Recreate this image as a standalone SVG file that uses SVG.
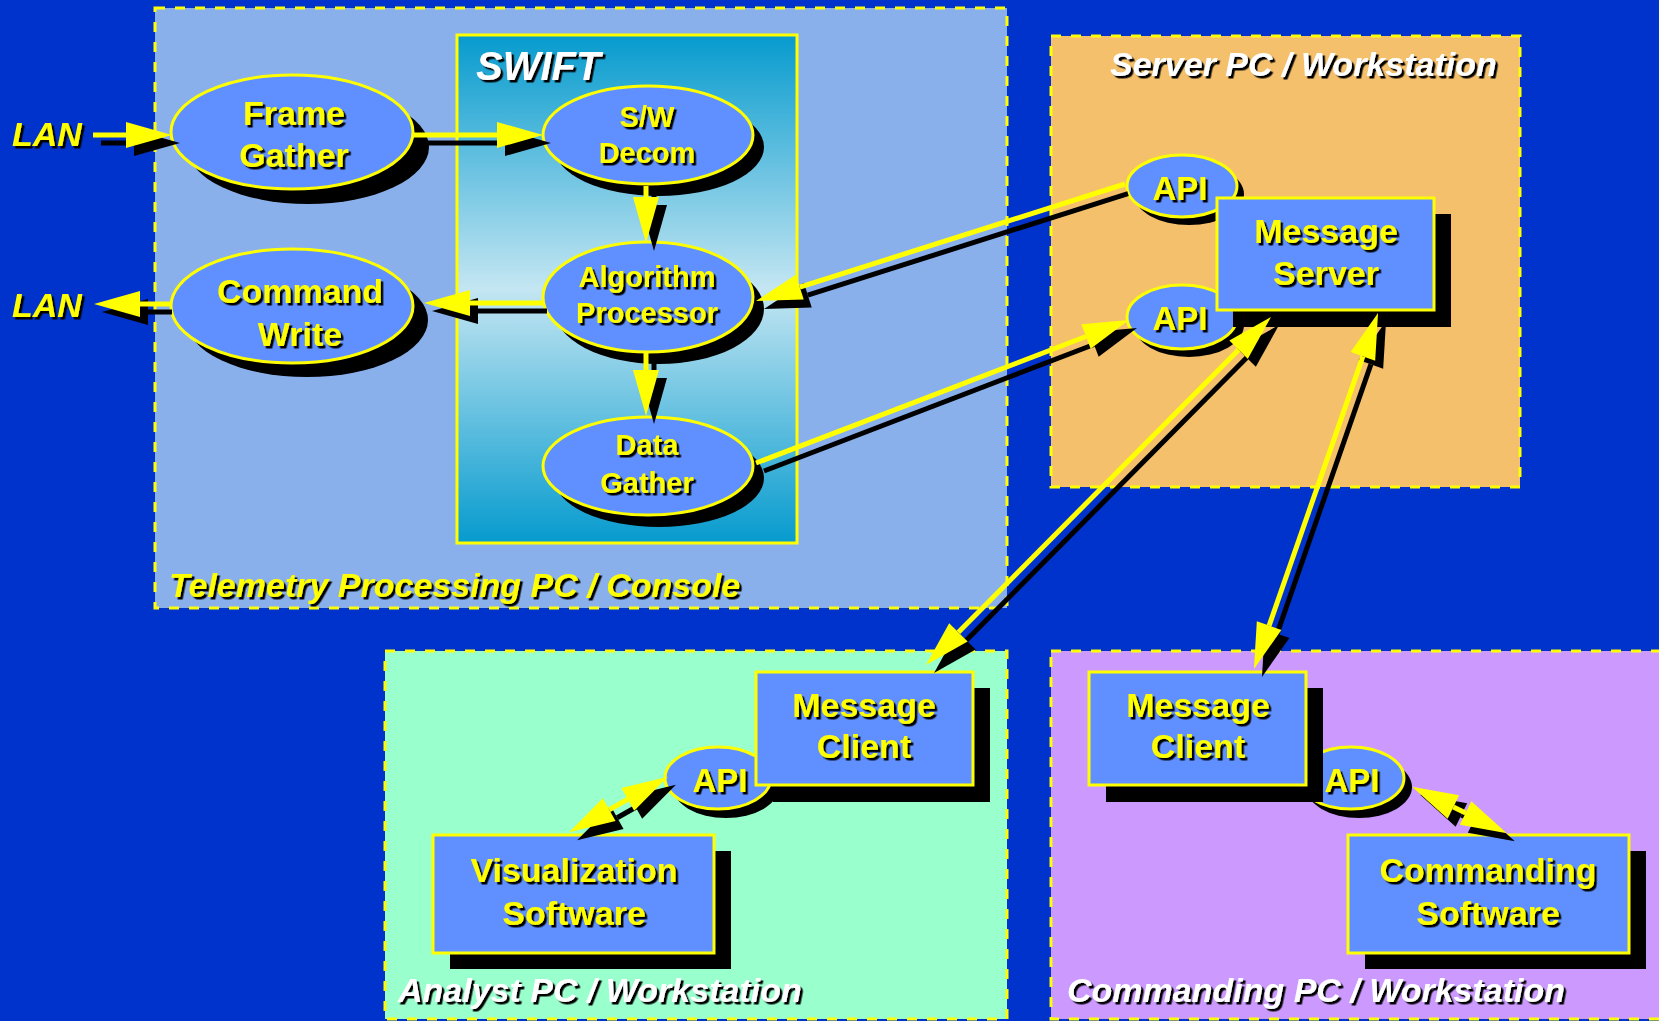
<svg xmlns="http://www.w3.org/2000/svg" width="1659" height="1021" viewBox="0 0 1659 1021">
<defs>
<style>
.region{stroke:#ffff00;stroke-width:3;stroke-dasharray:10 10}
.node{fill:#6090ff;stroke:#ffff00;stroke-width:3}
.sh{fill:#000}
.nt{font-family:"Liberation Sans",Arial,sans-serif;font-weight:bold;font-size:34px;fill:#ffff00;text-anchor:middle;filter:url(#ts)}
.sm{font-size:29px}
.api{font-size:33px}
.tt{font-family:"Liberation Sans",Arial,sans-serif;font-weight:bold;font-style:italic;font-size:34px;fill:#ffffff;filter:url(#ts)}
.ty{fill:#ffff00}
.cy{fill:none;stroke:#ffff00;stroke-width:5;marker-end:url(#hy)}
.cs{fill:none;stroke:#000;stroke-width:5;marker-end:url(#hb)}
.by{marker-start:url(#hy)}
.bs{marker-start:url(#hb)}
</style>
<filter id="ts" x="-10%" y="-10%" width="130%" height="140%">
<feDropShadow dx="2.5" dy="2.5" stdDeviation="0" flood-color="#000" flood-opacity="1"/>
</filter>
<linearGradient id="swiftGrad" x1="0" y1="0" x2="0" y2="1">
<stop offset="0" stop-color="#069bce"/>
<stop offset="0.5" stop-color="#c4e6f2"/>
<stop offset="1" stop-color="#069bce"/>
</linearGradient>
<marker id="hy" markerUnits="userSpaceOnUse" markerWidth="46" markerHeight="26" viewBox="0 0 46 26" refX="0" refY="13" orient="auto-start-reverse" overflow="visible">
<path d="M0,0 L46,13 L0,26 Z" fill="#ffff00"/>
</marker>
<marker id="hb" markerUnits="userSpaceOnUse" markerWidth="46" markerHeight="26" viewBox="0 0 46 26" refX="0" refY="13" orient="auto-start-reverse" overflow="visible">
<path d="M0,0 L46,13 L0,26 Z" fill="#000"/>
</marker>
</defs>

<rect x="0" y="0" width="1659" height="1021" fill="#0033cc"/>

<g id="regions">
<g id="telemetry-pc">
<rect class="region" x="155" y="8" width="852" height="600" fill="#8ab0ec"/>
<text class="tt ty" x="169" y="597">Telemetry Processing PC / Console</text>
</g>
<g id="server-pc">
<rect class="region" x="1051" y="36" width="469" height="451" fill="#f5c06b"/>
<text class="tt" x="1110" y="76">Server PC / Workstation</text>
</g>
<g id="analyst-pc">
<rect class="region" x="385" y="651" width="622" height="368" fill="#99ffcc"/>
<text class="tt" x="398" y="1002">Analyst PC / Workstation</text>
</g>
<g id="commanding-pc">
<rect class="region" x="1051" y="651" width="640" height="368" fill="#cc99ff"/>
<text class="tt" x="1067" y="1002">Commanding PC / Workstation</text>
</g>
<g id="swift">
<rect x="457" y="35" width="340" height="508" fill="url(#swiftGrad)" stroke="#ffff00" stroke-width="3"/>
<text class="tt" x="476" y="80" style="font-size:40px">SWIFT</text>
</g>
</g>

<g id="lan-labels">
<text class="tt ty" x="12" y="146">LAN</text>
<text class="tt ty" x="12" y="317">LAN</text>
</g>

<g id="frame-gather">
<ellipse class="sh" cx="308" cy="147" rx="121" ry="57"/>
<ellipse class="node" cx="292" cy="132" rx="121" ry="57"/>
<text class="nt" x="294" y="125">Frame</text>
<text class="nt" x="294" y="167">Gather</text>
</g>
<g id="command-write">
<ellipse class="sh" cx="307" cy="320" rx="121" ry="57"/>
<ellipse class="node" cx="292" cy="306" rx="121" ry="57"/>
<text class="nt" x="300" y="303">Command</text>
<text class="nt" x="300" y="346">Write</text>
</g>
<g id="sw-decom">
<ellipse class="sh" cx="659" cy="147" rx="105" ry="49"/>
<ellipse class="node" cx="648" cy="135" rx="105" ry="49"/>
<text class="nt sm" x="647" y="127">S/W</text>
<text class="nt sm" x="647" y="163">Decom</text>
</g>
<g id="algorithm-processor">
<ellipse class="sh" cx="659" cy="309" rx="105" ry="55"/>
<ellipse class="node" cx="648" cy="297" rx="105" ry="55"/>
<text class="nt sm" x="647" y="287">Algorithm</text>
<text class="nt sm" x="647" y="323">Processor</text>
</g>
<g id="data-gather">
<ellipse class="sh" cx="659" cy="478" rx="105" ry="49"/>
<ellipse class="node" cx="648" cy="466" rx="105" ry="49"/>
<text class="nt sm" x="647" y="455">Data</text>
<text class="nt sm" x="647" y="493">Gather</text>
</g>

<g id="server-api-1">
<ellipse class="sh" cx="1189" cy="194" rx="55" ry="31"/>
<ellipse class="node" cx="1182" cy="186" rx="55" ry="31"/>
<text class="nt api" x="1180" y="200">API</text>
</g>
<g id="server-api-2">
<ellipse class="sh" cx="1189" cy="325" rx="55" ry="32"/>
<ellipse class="node" cx="1182" cy="317" rx="55" ry="32"/>
<text class="nt api" x="1180" y="330">API</text>
</g>
<g id="message-server">
<rect class="sh" x="1233" y="214" width="218" height="113"/>
<rect class="node" x="1217" y="198" width="217" height="112"/>
<text class="nt" x="1326" y="243">Message</text>
<text class="nt" x="1326" y="285">Server</text>
</g>

<g id="analyst-api">
<ellipse class="sh" cx="726" cy="787" rx="53" ry="31"/>
<ellipse class="node" cx="718" cy="778" rx="53" ry="31"/>
<text class="nt api" x="720" y="792">API</text>
</g>
<g id="analyst-message-client">
<rect class="sh" x="773" y="688" width="217" height="114"/>
<rect class="node" x="756" y="672" width="217" height="113"/>
<text class="nt" x="864" y="717">Message</text>
<text class="nt" x="864" y="758">Client</text>
</g>
<g id="visualization-software">
<rect class="sh" x="450" y="851" width="281" height="118"/>
<rect class="node" x="433" y="835" width="281" height="118"/>
<text class="nt" x="574" y="882">Visualization</text>
<text class="nt" x="574" y="925">Software</text>
</g>

<g id="commanding-api">
<ellipse class="sh" cx="1359" cy="787" rx="53" ry="31"/>
<ellipse class="node" cx="1351" cy="778" rx="53" ry="31"/>
<text class="nt api" x="1352" y="792">API</text>
</g>
<g id="commanding-message-client">
<rect class="sh" x="1106" y="688" width="217" height="114"/>
<rect class="node" x="1089" y="672" width="217" height="113"/>
<text class="nt" x="1198" y="717">Message</text>
<text class="nt" x="1198" y="758">Client</text>
</g>
<g id="commanding-software">
<rect class="sh" x="1365" y="851" width="281" height="118"/>
<rect class="node" x="1348" y="835" width="281" height="118"/>
<text class="nt" x="1488" y="882">Commanding</text>
<text class="nt" x="1488" y="925">Software</text>
</g>

<g id="connectors">
<g id="lan-to-frame"><path class="cs" d="M101,143 L134,143"/><path class="cy" d="M93,135 L126,135"/></g>
<g id="frame-to-decom"><path class="cs" d="M421,143 L505,143"/><path class="cy" d="M413,135 L497,135"/></g>
<g id="decom-to-algorithm"><path class="cs" d="M654,194 L654,205"/><path class="cy" d="M646,186 L646,197"/></g>
<g id="algorithm-to-data"><path class="cs" d="M654,361 L654,378"/><path class="cy" d="M646,353 L646,370"/></g>
<g id="algorithm-to-command"><path class="cs" d="M547,311 L478,311"/><path class="cy" d="M543,303 L470,303"/></g>
<g id="command-to-lan"><path class="cs" d="M172,312 L148,312"/><path class="cy" d="M171,304 L140,304"/></g>
<g id="api-to-algorithm"><path class="cs" d="M1128,193.6 L807.8,295.1"/><path class="cy" d="M1125,184 L799.8,287.1"/></g>
<g id="data-to-api"><path class="cs" d="M764,471 L1094,344.5"/><path class="cy" d="M756,463 L1086,336.5"/></g>
<g id="server-analyst"><path class="cs bs" d="M966.4,640.3 L1246.6,357.7"/><path class="cy by" d="M958.4,632.3 L1238.6,349.7"/></g>
<g id="server-commanding"><path class="cs bs" d="M1277.1,633.6 L1370.9,364.4"/><path class="cy by" d="M1269.1,625.6 L1362.9,356.4"/></g>
<g id="api-visualization"><path class="cs bs" d="M617.2,817.7 L635.8,807.3"/><path class="cy by" d="M609.2,809.7 L627.8,799.3"/></g>
<g id="api-commanding"><path class="cs bs" d="M1461.4,815 L1473.6,821"/><path class="cy by" d="M1453.4,807 L1465.6,813"/></g>
</g>
</svg>
